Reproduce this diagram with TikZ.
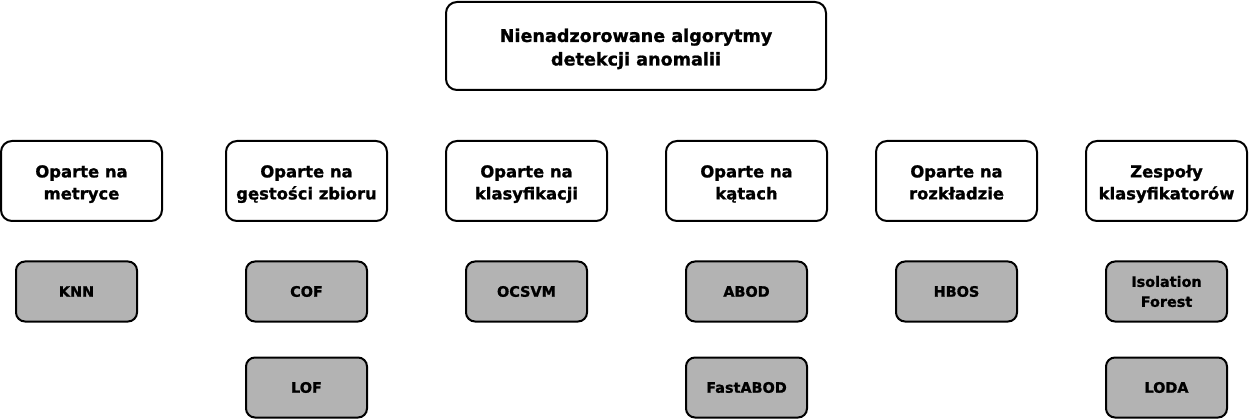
\documentclass[tikz,border=0pt]{standalone}
\usepackage{fontspec}
\setmainfont{DejaVu Sans}[BoldFeatures={FakeBold=1.2}]
\newcommand{\lowtext}[1]{\raisebox{-3pt}[\height][\depth]{\begin{tabular}{@{}c@{}}#1\end{tabular}}}
\begin{document}
\begin{tikzpicture}[x=1pt,y=-1pt,
  topbox/.style={draw=black,line width=2pt,rounded corners=11pt,fill=white,minimum width=380pt,minimum height=88pt,align=center,font=\bfseries\fontsize{17.6}{23.5}\selectfont,inner sep=0pt},
  catbox/.style={draw=black,line width=2pt,rounded corners=11pt,fill=white,minimum width=161pt,minimum height=80pt,align=center,font=\bfseries\fontsize{16.4}{22}\selectfont,inner sep=0pt},
  algbox/.style={draw=black,line width=2pt,rounded corners=9pt,fill=algfill,minimum width=121pt,minimum height=60pt,align=center,font=\bfseries\fontsize{14.4}{20}\selectfont,inner sep=0pt}]
\definecolor{algfill}{RGB}{179,179,179}
\useasboundingbox (0,0) rectangle (1249,419);
\node[topbox] (root) at (636,46) {\lowtext{Nienadzorowane algorytmy\\detekcji anomalii}};
\node[catbox] (c1) at (81.5,181) {\lowtext{Oparte na\\metryce}};
\node[catbox] (c2) at (306.5,181) {\lowtext{Oparte na\\gęstości zbioru}};
\node[catbox] (c3) at (526.5,181) {\lowtext{Oparte na\\klasyfikacji}};
\node[catbox] (c4) at (746.5,181) {\lowtext{Oparte na\\kątach}};
\node[catbox] (c5) at (956.5,181) {\lowtext{Oparte na\\rozkładzie}};
\node[catbox] (c6) at (1166.5,181) {\lowtext{Zespoły\\klasyfikatorów}};
\node[algbox] (knn) at (76.5,291.5) {KNN};
\node[algbox] (cof) at (306.5,291.5) {COF};
\node[algbox] (lof) at (306.5,387.5) {LOF};
\node[algbox] (ocsvm) at (526.5,291.5) {OCSVM};
\node[algbox] (abod) at (746.5,291.5) {ABOD};
\node[algbox] (fabod) at (746.5,387.5) {FastABOD};
\node[algbox] (hbos) at (956.5,291.5) {HBOS};
\node[algbox] (iso) at (1166.5,291.5) {Isolation\\Forest};
\node[algbox] (loda) at (1166.5,387.5) {LODA};
\end{tikzpicture}
\end{document}
